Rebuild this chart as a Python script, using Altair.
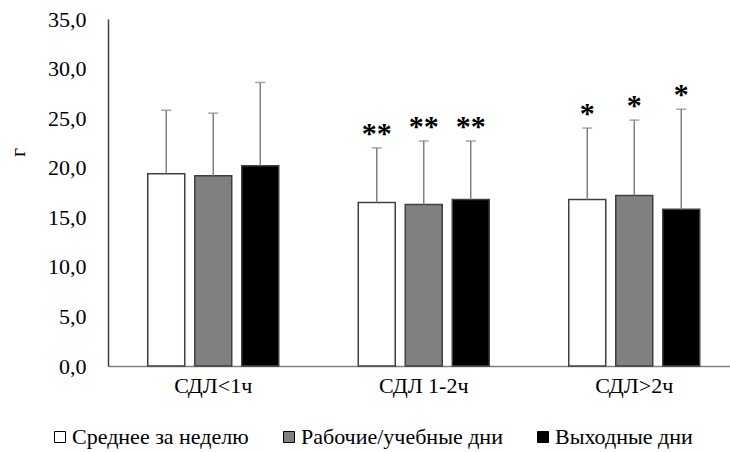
import altair as alt
import pandas as pd

groups = ["СДЛ<1ч", "СДЛ 1-2ч", "СДЛ>2ч"]
series = ["Среднее за неделю", "Рабочие/учебные дни", "Выходные дни"]
colors = ["#ffffff", "#808080", "#000000"]

mean_week = [19.4, 16.5, 16.8]
sd_week = [6.4, 5.5, 7.2]
mean_work = [19.2, 16.3, 17.2]
sd_work = [6.3, 6.4, 7.6]
mean_weekend = [20.2, 16.8, 15.8]
sd_weekend = [8.4, 5.9, 10.1]
stars_week = ["", "**", "*"]
stars_work = ["", "**", "*"]
stars_weekend = ["", "**", "*"]

rows = []
for s, means, sds, stars in [
    (series[0], mean_week, sd_week, stars_week),
    (series[1], mean_work, sd_work, stars_work),
    (series[2], mean_weekend, sd_weekend, stars_weekend),
]:
    for g, m, sd, st in zip(groups, means, sds, stars):
        rows.append({"group": g, "series": s, "mean": m, "upper": round(m + sd, 2), "star": st})
df = pd.DataFrame(rows)

FONT = "Liberation Serif"
FS = 22

base = alt.Chart(df).encode(
    x=alt.X(
        "group:N",
        sort=groups,
        scale=alt.Scale(range=[0, 631.5], paddingInner=0, paddingOuter=0),
        axis=alt.Axis(
            title=None, labelAngle=0, ticks=False, labelPadding=9,
            labelFontSize=FS, labelColor="#000000",
            domainColor="#808080", domainWidth=1.5,
        ),
    ),
    xOffset=alt.XOffset(
        "series:N", sort=series,
        scale=alt.Scale(paddingInner=0.213, paddingOuter=0.846),
    ),
)

yscale = alt.Scale(domain=[0, 35], nice=False)

bars = base.mark_bar(stroke="#404040", strokeWidth=1.5).encode(
    y=alt.Y(
        "mean:Q", scale=yscale,
        axis=alt.Axis(
            title="г", titleAngle=-90, titleX=-91, titleY=133,
            titleFontSize=FS, titleFontWeight="normal",
            titleAlign="center", titleBaseline="middle", titleColor="#000000",
            values=[0, 5, 10, 15, 20, 25, 30, 35],
            labelExpr="replace(format(datum.value, '.1f'), '.', ',')",
            grid=False, ticks=False, labelPadding=22,
            labelFontSize=FS, labelColor="#000000",
            domainColor="#404040", domainWidth=1.5,
        ),
    ),
    fill=alt.Fill(
        "series:N",
        scale=alt.Scale(domain=series, range=colors),
        legend=alt.Legend(
            title=None, orient="none", direction="horizontal",
            legendX=-59, legendY=407, padding=0,
            symbolType="square", symbolSize=121,
            symbolStrokeColor="#000000", symbolStrokeWidth=1,
            labelFontSize=FS, labelColor="#000000",
            labelOffset=1, columnPadding=29, labelLimit=400,
        ),
    ),
)

rules = base.mark_rule(color="#808080", strokeWidth=1.5).encode(
    y=alt.Y("mean:Q", scale=yscale), y2="upper:Q"
)
caps = base.mark_tick(color="#808080", thickness=1.5, size=10, orient="horizontal").encode(
    y=alt.Y("upper:Q", scale=yscale)
)
stars = base.mark_text(font=FONT, fontSize=30, fontWeight="bold", dy=-5, baseline="alphabetic", color="#000000").encode(
    y=alt.Y("upper:Q", scale=yscale), text="star:N"
)

chart = (
    alt.layer(bars, rules, caps, stars)
    .properties(
        width=622, height=347,
        autosize=alt.AutoSizeParams(type="none"),
        padding={"left": 108, "top": 19, "right": 0, "bottom": 86},
    )
    .configure(font=FONT, background="#ffffff")
    .configure_axis(labelFont=FONT, titleFont=FONT)
    .configure_legend(labelFont=FONT)
    .configure_view(stroke=None)
)

chart.save("out.html", embed_options={"renderer": "svg", "actions": False})
